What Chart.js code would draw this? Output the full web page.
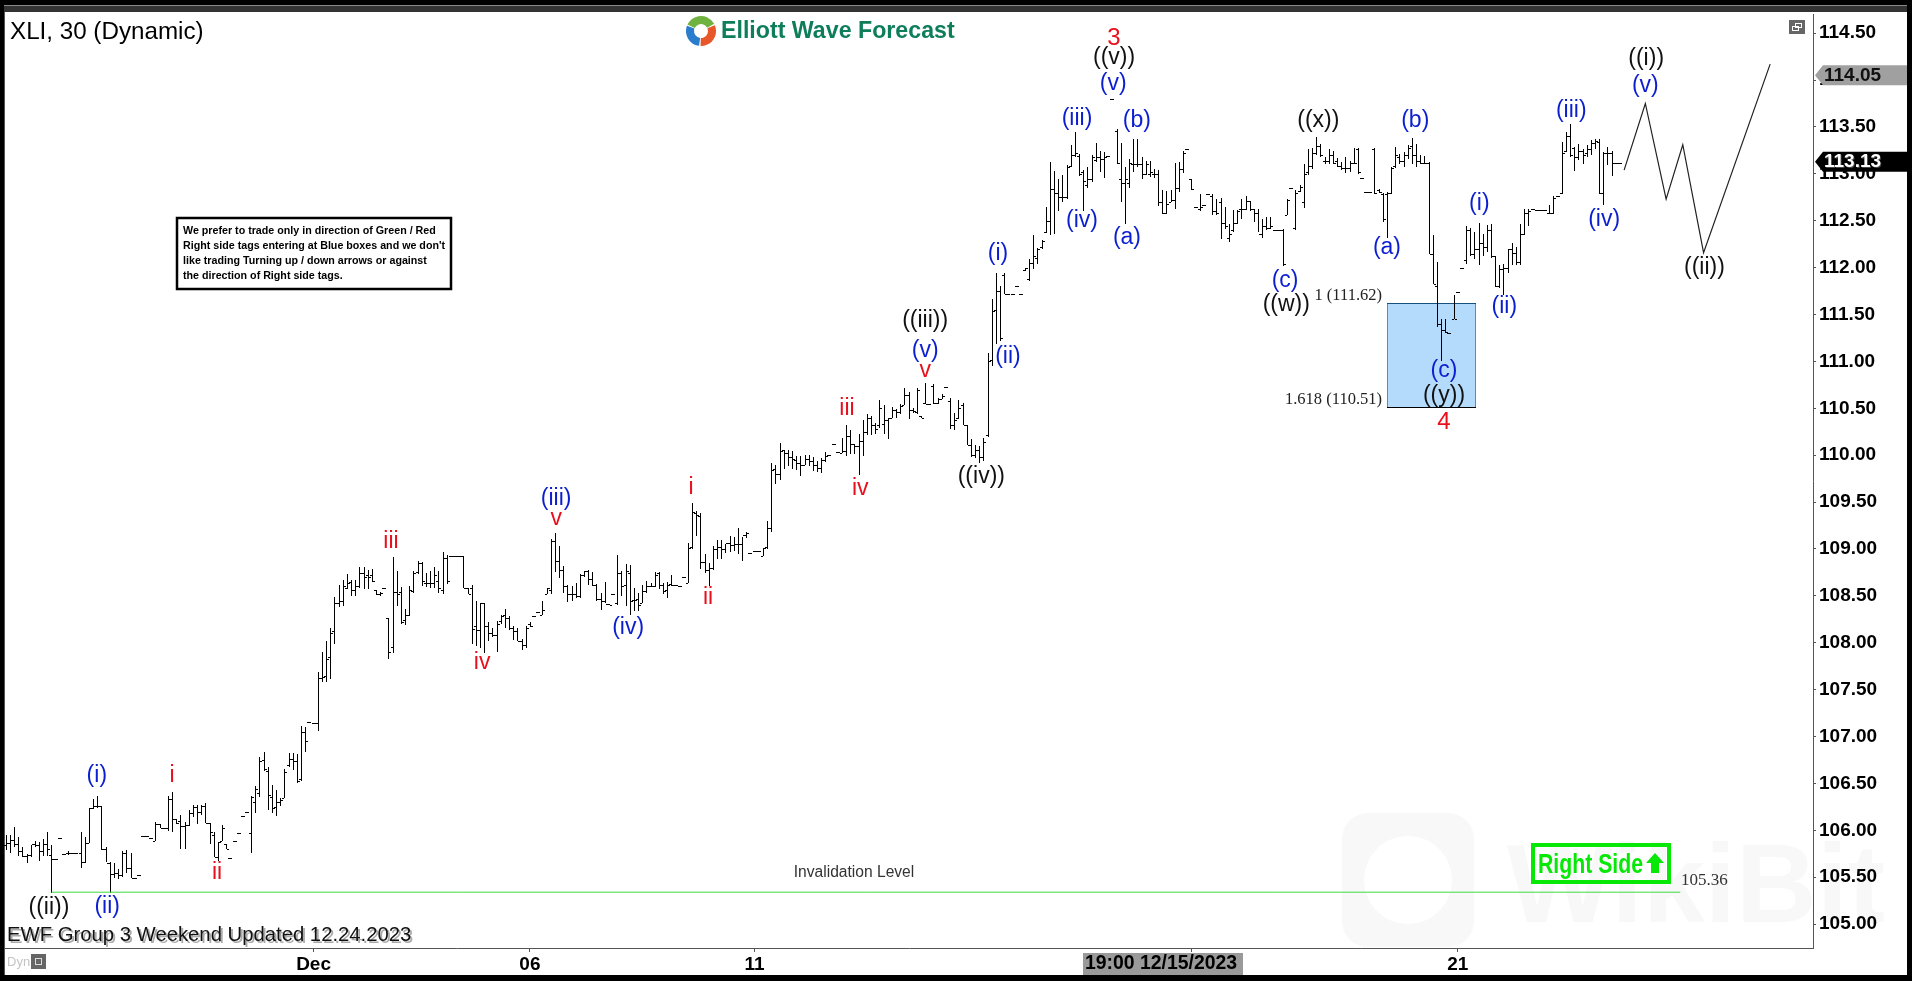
<!DOCTYPE html>
<html lang="en">
<head>
  <meta charset="UTF-8">
  <title>XLI, 30 (Dynamic)</title>
  <script src="https://cdn.jsdelivr.net/npm/chart.js"></script>
  <style>
    html, body { margin: 0; padding: 0; background: #000; overflow: hidden; }
    canvas { display: block; }
  </style>
</head>
<body>
  <canvas id="grafico" width="1912" height="981"></canvas>

  <script>
    const highs = [
      105.95,105.95,106.03,105.93,105.82,105.75,105.84,105.89,105.87,105.91,
      105.98,105.84,105.69,105.92,105.75,105.78,105.76,105.76,105.98,105.93,
      106.24,106.33,106.37,106.26,105.82,105.66,105.65,105.59,105.78,105.79,
      105.76,105.49,105.52,105.94,105.94,105.92,106.09,106.07,106.02,106.37,
      106.41,106.12,106.16,106.09,106.22,106.27,106.27,106.27,106.29,106.08,
      105.98,105.88,106.06,105.85,105.71,105.89,105.97,106.15,106.20,106.37,
      106.47,106.78,106.84,106.68,106.48,106.43,106.34,106.65,106.82,106.82,
      106.81,107.11,107.10,107.15,107.14,107.69,107.90,108.02,108.16,108.49,
      108.62,108.67,108.73,108.67,108.67,108.81,108.81,108.78,108.79,108.56,
      108.54,108.58,108.26,108.91,108.77,108.59,108.36,108.61,108.77,108.87,
      108.86,108.74,108.77,108.81,108.77,108.97,108.94,108.92,108.92,108.92,
      108.92,108.58,108.62,108.45,108.42,108.42,108.22,108.16,108.23,108.30,
      108.36,108.29,108.18,108.16,108.04,108.18,108.22,108.28,108.33,108.45,
      108.58,109.11,109.17,109.03,108.82,108.62,108.61,108.64,108.73,108.77,
      108.78,108.75,108.63,108.53,108.65,108.41,108.52,108.94,108.77,108.84,
      108.83,108.58,108.53,108.62,108.66,108.64,108.75,108.75,108.64,108.65,
      108.72,108.62,108.61,108.70,109.06,109.49,109.41,109.38,108.95,108.85,
      109.03,109.10,109.10,109.05,109.14,109.13,109.22,109.13,109.18,108.96,
      108.98,108.98,109.01,109.30,109.92,109.90,110.13,110.06,110.05,110.04,
      109.99,109.99,110.00,110.00,109.98,109.94,109.97,110.03,110.00,110.12,
      110.03,110.18,110.32,110.27,110.12,110.23,110.37,110.44,110.42,110.34,
      110.59,110.53,110.40,110.51,110.49,110.55,110.72,110.67,110.50,110.72,
      110.42,110.77,110.55,110.76,110.61,110.65,110.73,110.61,110.45,110.59,
      110.56,110.32,110.17,110.11,110.10,110.18,111.09,111.67,111.94,111.80,
      111.94,111.72,111.72,111.80,111.72,112.00,112.09,112.35,112.21,112.29,
      112.65,113.13,113.03,112.95,112.99,113.09,113.31,113.45,113.21,113.04,
      113.07,113.20,113.33,113.24,113.23,113.19,113.80,113.48,113.33,113.07,
      113.16,113.37,113.37,113.18,113.14,113.14,113.05,113.04,112.83,112.82,
      112.83,113.12,113.13,113.24,113.26,112.94,112.65,112.78,112.67,112.78,
      112.78,112.73,112.74,112.65,112.46,112.61,112.61,112.73,112.76,112.71,
      112.62,112.63,112.52,112.54,112.54,112.40,112.40,112.41,112.73,112.85,
      112.83,112.88,113.10,113.26,113.28,113.39,113.32,113.18,113.27,113.24,
      113.17,113.13,113.18,113.14,113.28,113.28,112.96,112.81,112.81,113.28,
      112.84,112.80,112.81,113.07,113.29,113.21,113.23,113.31,113.38,113.32,
      113.20,113.19,113.13,112.35,112.06,111.45,111.45,111.30,111.71,111.74,
      112.00,112.44,112.42,112.38,112.48,112.36,112.45,112.46,112.12,112.03,
      112.04,112.20,112.26,112.22,112.46,112.63,112.63,112.62,112.61,112.61,
      112.61,112.67,112.76,112.76,113.34,113.45,113.53,113.29,113.32,113.27,
      113.31,113.36,113.37,113.37,113.23,113.29,113.24,113.12,113.12
    ];
    const lows = [
      105.79,105.76,105.82,105.73,105.72,105.65,105.72,105.82,105.67,105.73,
      105.73,105.33,105.69,105.92,105.75,105.74,105.76,105.76,105.60,105.65,
      105.86,106.23,106.24,105.79,105.66,105.33,105.49,105.48,105.50,105.55,
      105.49,105.49,105.52,105.94,105.94,105.92,105.89,106.02,106.02,105.99,
      105.98,106.07,105.80,105.80,106.05,106.14,106.07,106.16,106.08,105.85,
      105.72,105.67,105.89,105.80,105.71,105.89,105.97,106.15,106.20,105.76,
      106.18,106.35,106.63,106.22,106.18,106.15,106.26,106.34,106.67,106.64,
      106.50,106.53,106.84,107.15,107.14,107.06,107.58,107.58,107.61,107.99,
      108.38,108.39,108.57,108.50,108.50,108.58,108.57,108.57,108.65,108.51,
      108.50,108.58,107.83,107.89,108.39,108.20,108.19,108.28,108.53,108.73,
      108.60,108.59,108.58,108.58,108.53,108.52,108.63,108.92,108.92,108.92,
      108.58,108.52,107.99,107.96,107.94,107.89,108.02,108.06,107.90,108.20,
      108.16,108.14,108.03,108.02,107.92,107.94,108.17,108.28,108.33,108.30,
      108.52,108.52,108.75,108.69,108.53,108.43,108.45,108.48,108.48,108.70,
      108.62,108.61,108.45,108.35,108.42,108.40,108.52,108.40,108.50,108.39,
      108.30,108.34,108.34,108.42,108.53,108.59,108.59,108.57,108.52,108.48,
      108.61,108.62,108.61,108.70,108.64,109.00,109.14,108.79,108.74,108.61,
      108.78,108.89,108.89,108.96,108.97,108.98,108.95,108.87,109.12,108.96,
      108.98,108.98,108.92,109.00,109.18,109.69,109.73,109.85,109.88,109.85,
      109.84,109.78,109.90,109.88,109.83,109.82,109.81,109.93,110.00,110.12,
      110.03,110.02,109.99,110.01,110.01,109.79,109.99,110.22,110.22,110.23,
      110.29,110.23,110.17,110.40,110.40,110.44,110.54,110.39,110.45,110.44,
      110.40,110.55,110.55,110.55,110.55,110.60,110.73,110.28,110.27,110.39,
      110.32,110.11,109.98,109.97,109.92,109.94,110.19,110.95,111.19,111.22,
      111.72,111.72,111.72,111.80,111.72,111.96,111.86,111.98,112.04,112.20,
      112.37,112.35,112.36,112.60,112.70,112.73,113.07,113.18,112.98,112.60,
      112.85,112.91,113.13,113.02,112.96,113.19,113.80,113.10,112.70,112.47,
      112.85,113.02,113.07,112.94,112.99,112.97,112.96,112.66,112.57,112.57,
      112.70,112.63,112.81,113.01,113.26,112.83,112.65,112.60,112.67,112.78,
      112.56,112.56,112.31,112.41,112.27,112.38,112.46,112.52,112.61,112.60,
      112.49,112.38,112.32,112.40,112.41,112.40,112.40,112.02,112.56,112.85,
      112.40,112.81,112.64,112.99,113.05,113.20,113.18,113.10,113.11,113.10,
      113.07,113.04,113.01,113.02,113.11,113.00,112.96,112.81,112.81,112.79,
      112.80,112.49,112.32,112.79,113.06,113.10,113.07,113.16,113.10,113.07,
      113.11,113.10,112.14,111.82,111.37,111.00,111.30,111.30,111.45,111.74,
      112.00,112.04,112.12,112.09,112.03,112.12,112.17,112.10,111.79,111.78,
      111.71,111.94,112.03,112.03,112.03,112.35,112.44,112.62,112.61,112.61,
      112.61,112.57,112.57,112.76,112.78,113.23,113.18,113.03,113.15,113.10,
      113.18,113.20,113.27,112.78,112.67,113.09,112.98,113.12,113.12
    ];
    const opens = [
      105.84,105.86,105.90,105.85,105.78,105.73,105.74,105.85,105.84,105.78,
      105.85,105.74,105.69,105.92,105.75,105.76,105.76,105.76,105.76,105.66,
      105.86,106.24,106.26,106.26,105.80,105.65,105.53,105.55,105.52,105.76,
      105.60,105.49,105.52,105.94,105.94,105.92,105.89,106.07,106.02,106.02,
      106.33,106.12,106.10,106.05,106.06,106.18,106.25,106.20,106.26,106.08,
      105.95,105.72,105.89,105.85,105.71,105.89,105.97,106.15,106.20,105.97,
      106.30,106.40,106.75,106.63,106.36,106.25,106.30,106.34,106.70,106.76,
      106.74,106.55,107.05,107.15,107.14,107.14,107.62,107.65,107.85,108.12,
      108.42,108.45,108.58,108.65,108.56,108.60,108.74,108.72,108.72,108.56,
      108.52,108.58,108.26,107.95,108.54,108.54,108.24,108.30,108.55,108.75,
      108.85,108.64,108.64,108.64,108.66,108.56,108.90,108.92,108.92,108.92,
      108.92,108.58,108.58,108.18,108.14,108.42,108.18,108.10,108.08,108.23,
      108.30,108.26,108.16,108.12,108.02,107.98,108.20,108.28,108.33,108.30,
      108.52,108.56,109.09,108.87,108.78,108.60,108.52,108.52,108.50,108.72,
      108.76,108.68,108.62,108.47,108.44,108.41,108.52,108.42,108.74,108.62,
      108.74,108.46,108.47,108.42,108.55,108.61,108.60,108.74,108.62,108.56,
      108.63,108.62,108.61,108.70,108.64,109.02,109.38,109.35,108.86,108.78,
      108.80,109.00,109.02,109.00,109.06,109.04,109.05,109.05,109.15,108.96,
      108.98,108.98,108.92,109.02,109.22,109.85,109.80,110.05,110.02,109.98,
      109.95,109.92,109.90,109.96,109.94,109.90,109.86,109.95,110.00,110.12,
      110.03,110.02,110.04,110.20,110.12,110.10,110.15,110.25,110.40,110.32,
      110.32,110.33,110.38,110.40,110.48,110.46,110.54,110.64,110.48,110.46,
      110.42,110.56,110.55,110.74,110.56,110.60,110.73,110.58,110.32,110.40,
      110.53,110.32,110.11,110.00,110.05,109.98,110.22,111.02,111.55,111.75,
      111.92,111.72,111.72,111.80,111.72,111.97,111.88,112.05,112.10,112.22,
      112.38,112.50,112.84,112.80,112.75,112.75,113.08,113.20,113.19,113.02,
      112.88,112.95,113.15,113.18,113.16,113.19,113.80,113.46,112.95,112.90,
      112.90,113.10,113.10,113.10,113.00,113.00,113.00,113.00,112.70,112.58,
      112.70,112.72,112.85,113.05,113.26,112.94,112.65,112.62,112.67,112.78,
      112.76,112.60,112.70,112.48,112.32,112.40,112.48,112.62,112.62,112.71,
      112.62,112.58,112.36,112.44,112.42,112.40,112.40,112.40,112.56,112.85,
      112.42,112.82,112.70,113.02,113.08,113.22,113.30,113.14,113.14,113.20,
      113.14,113.08,113.06,113.06,113.12,113.26,112.96,112.81,112.81,113.26,
      112.83,112.78,112.78,112.80,113.08,113.18,113.14,113.20,113.30,113.20,
      113.14,113.12,113.12,112.14,111.80,111.40,111.34,111.30,111.45,111.74,
      112.00,112.08,112.40,112.15,112.20,112.26,112.22,112.40,112.12,111.80,
      111.98,112.00,112.20,112.16,112.06,112.36,112.58,112.62,112.61,112.61,
      112.61,112.58,112.58,112.76,112.80,113.24,113.40,113.28,113.18,113.24,
      113.22,113.26,113.33,113.34,112.80,113.22,113.22,113.12,113.12
    ];
    const closes = [
      105.86,105.90,105.85,105.78,105.73,105.74,105.85,105.84,105.78,105.85,
      105.80,105.69,105.69,105.92,105.75,105.76,105.76,105.76,105.66,105.86,
      106.24,106.26,106.26,105.80,105.65,105.53,105.55,105.52,105.76,105.60,
      105.49,105.49,105.52,105.94,105.94,105.92,106.07,106.02,106.02,106.33,
      106.12,106.08,106.05,106.06,106.18,106.25,106.20,106.26,106.08,105.98,
      105.72,105.88,106.02,105.80,105.71,105.89,105.97,106.15,106.20,106.35,
      106.44,106.74,106.65,106.38,106.24,106.30,106.32,106.62,106.76,106.74,
      106.53,107.05,106.95,107.15,107.14,107.62,107.63,107.83,108.10,108.42,
      108.44,108.60,108.64,108.56,108.60,108.74,108.70,108.70,108.66,108.52,
      108.53,108.58,107.90,108.54,108.52,108.22,108.30,108.56,108.74,108.85,
      108.66,108.64,108.64,108.72,108.58,108.90,108.66,108.92,108.92,108.92,
      108.58,108.52,108.15,108.14,108.42,108.18,108.10,108.08,108.20,108.28,
      108.26,108.16,108.12,108.02,107.98,108.16,108.18,108.28,108.33,108.35,
      108.58,109.08,108.87,108.78,108.60,108.52,108.52,108.50,108.72,108.76,
      108.68,108.62,108.47,108.44,108.41,108.40,108.52,108.74,108.60,108.76,
      108.45,108.46,108.40,108.55,108.61,108.60,108.72,108.62,108.55,108.62,
      108.62,108.62,108.61,108.70,109.01,109.39,109.36,108.86,108.78,108.80,
      109.00,109.02,109.00,109.06,109.04,109.05,109.05,109.15,109.17,108.96,
      108.98,108.98,109.01,109.22,109.84,109.80,110.04,110.02,109.98,109.96,
      109.92,109.90,109.96,109.94,109.90,109.86,109.95,109.99,110.00,110.12,
      110.03,110.04,110.20,110.12,110.10,110.15,110.25,110.40,110.32,110.28,
      110.50,110.38,110.40,110.48,110.46,110.52,110.64,110.48,110.47,110.70,
      110.40,110.55,110.55,110.56,110.60,110.63,110.73,110.32,110.38,110.50,
      110.32,110.11,110.00,110.05,109.98,110.14,111.00,111.54,111.75,111.25,
      111.72,111.72,111.72,111.80,111.72,112.00,112.05,112.12,112.20,112.28,
      112.50,112.84,112.80,112.75,112.75,113.07,113.20,113.22,113.00,112.92,
      112.95,113.18,113.18,113.16,113.18,113.19,113.80,113.12,112.90,112.95,
      113.12,113.10,113.10,113.00,113.10,113.02,113.00,112.70,112.58,112.68,
      112.72,112.85,113.05,113.22,113.26,112.84,112.65,112.65,112.67,112.78,
      112.60,112.58,112.48,112.44,112.36,112.48,112.60,112.62,112.71,112.62,
      112.58,112.36,112.44,112.42,112.44,112.40,112.40,112.04,112.72,112.85,
      112.80,112.86,113.00,113.08,113.22,113.30,113.20,113.14,113.20,113.12,
      113.08,113.06,113.06,113.12,113.12,113.02,112.96,112.81,112.81,112.80,
      112.81,112.52,112.80,113.06,113.20,113.14,113.20,113.28,113.20,113.14,
      113.12,113.12,112.14,111.82,111.40,111.34,111.31,111.30,111.45,111.74,
      112.00,112.40,112.15,112.20,112.26,112.22,112.40,112.12,111.80,111.98,
      112.00,112.20,112.16,112.06,112.36,112.58,112.60,112.62,112.61,112.61,
      112.61,112.58,112.74,112.76,113.22,113.40,113.20,113.18,113.24,113.20,
      113.26,113.33,113.35,112.80,113.22,113.22,113.12,113.12,113.12
    ];

    // the tick at 285 sits above the crosshair time box, its label is hidden
    const xTicks = [74, 126, 180, 285, 349];
    const xTickLabels = ['Dec', '06', '11', '', '21'];

    // planned path after the last bar
    const pathX = [389, 394.1, 399.1, 403.1, 408.1, 424.1];
    const pathY = [113.04, 113.75, 112.73, 113.31, 112.16, 114.17];

    const invalidX = [11, 402.5];
    const invalidY = [105.34, 105.34];

    const boxX = [332, 353.2];
    const boxY = [111.62, 110.51];

    const BLUE = '#0b1fd0', RED = '#e8101c', BLACK = '#111';
    const waveText = ['((ii))','(ii)','(i)','i','ii','iii','iv','(iii)','v','(iv)','i','ii','iii','iv','((iii))','(v)','v','((iv))','(ii)','(i)','3','((v))','(v)','(iii)','(b)','(iv)','(a)','((x))','(b)','(a)','(c)','((w))','(c)','((y))','4','(i)','(ii)','(iii)','(iv)','((i))','(v)','((ii))'];
    const waveX = [10.4,24.4,21.9,40,50.8,92.6,114.5,132.3,132.3,149.6,164.7,168.8,202.2,205.4,221,221,221,234.5,240.9,238.5,266.4,266.4,266.2,257.5,271.9,258.7,269.5,315.5,338.8,332,307.5,307.8,345.7,345.7,345.7,354.2,360.2,376.3,384.2,394.3,394.1,408.3];
    const waveY = [105.16,105.17,106.57,106.57,105.53,109.06,107.77,109.52,109.31,108.15,109.64,108.46,110.48,109.63,111.42,111.10,110.88,109.76,111.03,112.13,114.44,114.22,113.95,113.57,113.55,112.48,112.30,113.55,113.55,112.20,111.85,111.59,110.88,110.62,110.35,112.67,111.57,113.66,112.50,114.21,113.92,111.98];
    const waveColor = [BLACK,BLUE,BLUE,RED,RED,RED,RED,BLUE,RED,BLUE,RED,RED,RED,RED,BLACK,BLUE,RED,BLACK,BLUE,BLUE,RED,BLACK,BLUE,BLUE,BLUE,BLUE,BLUE,BLACK,BLUE,BLUE,BLUE,BLACK,BLUE,BLACK,RED,BLUE,BLUE,BLUE,BLUE,BLACK,BLUE,BLACK];

    const noteLines = [
      'We prefer to trade only in direction of Green / Red',
      "Right side tags entering at Blue boxes and we don't",
      'like trading Turning up / down arrows or against',
      'the direction of Right side tags.'
    ];

    const SANS = '"Liberation Sans", Arial, sans-serif';
    const SERIF = '"Liberation Serif", serif';

    function scritta(ctx, testo, x, y, font, colore, allinea) {
      ctx.font = font;
      ctx.fillStyle = colore;
      ctx.textAlign = allinea || 'center';
      ctx.textBaseline = 'middle';
      ctx.fillText(testo, x, y);
    }

    function tag(ctx, y, sfondo, testo, colore, ombra) {
      ctx.fillStyle = sfondo;
      ctx.beginPath();
      ctx.moveTo(1815, y);
      ctx.lineTo(1823, y - 10);
      ctx.lineTo(1907, y - 10);
      ctx.lineTo(1907, y + 10);
      ctx.lineTo(1823, y + 10);
      ctx.closePath();
      ctx.fill();
      if (ombra) scritta(ctx, testo, 1825, y + 1, 'bold 19px ' + SANS, ombra, 'left');
      scritta(ctx, testo, 1824, y, 'bold 19px ' + SANS, colore, 'left');
    }

    const cornice = {
      id: 'cornice',
      beforeDraw(chart) {
        const ctx = chart.ctx;
        ctx.save();
        ctx.fillStyle = '#000';
        ctx.fillRect(0, 0, 1912, 981);
        ctx.fillStyle = '#8a8a8a';
        ctx.fillRect(4, 5, 1903, 1);
        ctx.fillStyle = '#333';
        ctx.fillRect(4, 6, 1903, 6);
        ctx.fillStyle = '#555';
        ctx.fillRect(4, 12, 1, 963);
        ctx.fillStyle = '#fff';
        ctx.fillRect(5, 12, 1902, 963);

        // faint watermark behind the chart
        ctx.fillStyle = '#f8f8f8';
        ctx.beginPath();
        ctx.roundRect(1342, 813, 132, 134, 26);
        ctx.fill();
        ctx.fillStyle = '#fff';
        ctx.beginPath();
        ctx.arc(1408, 880, 44, 0, Math.PI * 2);
        ctx.fill();
        ctx.fillStyle = '#f8f8f8';
        ctx.font = 'bold 112px ' + SANS;
        ctx.textAlign = 'left';
        ctx.textBaseline = 'alphabetic';
        ctx.fillText('WikiBit', 1507, 922, 378);
        ctx.restore();
      },
      beforeDatasetsDraw(chart) {
        const ctx = chart.ctx, sx = chart.scales.x, sy = chart.scales.y;
        const x0 = Math.round(sx.getPixelForValue(boxX[0])), x1 = Math.round(sx.getPixelForValue(boxX[1]));
        const y0 = Math.round(sy.getPixelForValue(boxY[0])), y1 = Math.round(sy.getPixelForValue(boxY[1]));
        ctx.save();
        ctx.fillStyle = '#b4dbfb';
        ctx.fillRect(x0, y0, x1 - x0, y1 - y0);
        ctx.fillStyle = '#2b9bd8';
        ctx.fillRect(x0, y0, 1, y1 - y0);
        ctx.fillRect(x1, y0, 1, y1 - y0);
        ctx.fillStyle = '#16507c';
        ctx.fillRect(x0, y0, x1 - x0 + 1, 1);
        ctx.fillStyle = '#000';
        ctx.fillRect(x0, y1, x1 - x0 + 1, 1);
        ctx.restore();
      },
      afterDatasetsUpdate(chart) {
        // snap the high-low stems to whole pixels
        chart.getDatasetMeta(0).data.forEach(el => {
          el.x = Math.round(el.x) + 0.5;
          el.y = Math.round(el.y);
          el.base = Math.round(el.base);
        });
      },
      afterDatasetsDraw(chart) {
        const ctx = chart.ctx, sx = chart.scales.x, sy = chart.scales.y;
        const stems = chart.getDatasetMeta(0).data;
        ctx.save();
        ctx.fillStyle = '#000';
        chart.getDatasetMeta(1).data.forEach((p, i) => {
          ctx.fillRect(Math.floor(stems[i].x) - 2, Math.round(p.y), 2, 1);
        });
        chart.getDatasetMeta(2).data.forEach((p, i) => {
          // a bar with no range shows as one short dash
          const flat = highs[i] === lows[i];
          ctx.fillRect(Math.floor(stems[i].x) + (flat ? 0 : 1), Math.round(p.y), flat ? 2 : 2, 1);
        });

        waveText.forEach((t, i) => {
          const big = t === '3' || t === '4';
          scritta(ctx, t, sx.getPixelForValue(waveX[i]), sy.getPixelForValue(waveY[i]) - (big ? 0 : 1.5),
            (big ? '24px ' : '23px ') + SANS, waveColor[i]);
        });

        scritta(ctx, '1 (111.62)', 1382, sy.getPixelForValue(boxY[0]) - 8, '16.5px ' + SERIF, '#222', 'right');
        scritta(ctx, '1.618 (110.51)', 1382, sy.getPixelForValue(boxY[1]) - 8, '16.5px ' + SERIF, '#222', 'right');
        scritta(ctx, 'Invalidation Level', 854, 873, '15.6px ' + SANS, '#333');
        scritta(ctx, '105.36', 1681, 881, '17px ' + SERIF, '#333', 'left');

        // right side tag
        ctx.strokeStyle = '#07e807';
        ctx.lineWidth = 4;
        ctx.strokeRect(1533, 845, 136, 37);
        ctx.fillStyle = '#07e807';
        ctx.font = 'bold 28px ' + SANS;
        ctx.textAlign = 'left';
        ctx.textBaseline = 'middle';
        ctx.fillText('Right Side', 1538, 865, 105);
        ctx.beginPath();
        ctx.moveTo(1655, 853);
        ctx.lineTo(1664, 863);
        ctx.lineTo(1659, 863);
        ctx.lineTo(1659, 873);
        ctx.lineTo(1651, 873);
        ctx.lineTo(1651, 863);
        ctx.lineTo(1646, 863);
        ctx.closePath();
        ctx.fill();

        // note box
        ctx.fillStyle = '#fff';
        ctx.fillRect(177, 218, 274, 71);
        ctx.strokeStyle = '#000';
        ctx.lineWidth = 2.5;
        ctx.strokeRect(177, 218, 274, 71);
        const noteY = [231, 246, 261, 276];
        noteLines.forEach((l, i) => {
          scritta(ctx, l, 183, noteY[i], 'bold 10.7px ' + SANS, '#000', 'left');
        });

        // titles
        scritta(ctx, 'XLI, 30 (Dynamic)', 10, 32, '24.2px ' + SANS, '#000', 'left');
        const titolo = 'EWF Group 3 Weekend Updated 12.24.2023';
        scritta(ctx, titolo, 9, 937, '20.3px ' + SANS, '#aaa', 'left');
        scritta(ctx, titolo, 7, 935, '20.3px ' + SANS, '#111', 'left');

        // logo
        ctx.lineWidth = 8;
        ctx.lineCap = 'butt';
        [['#6fb23f', -2.7, -0.5], ['#e8572a', -0.4, 1.6], ['#2a7ccc', 1.7, 3.5]].forEach(a => {
          ctx.strokeStyle = a[0];
          ctx.beginPath();
          ctx.arc(701, 31, 11, a[1], a[2]);
          ctx.stroke();
        });
        scritta(ctx, 'Elliott Wave Forecast', 721, 32, 'bold 23.2px ' + SANS, '#0d7d5a', 'left');

        // small window icon top right, Dyn lock bottom left
        ctx.fillStyle = '#666';
        ctx.fillRect(1789, 20, 16, 14);
        ctx.strokeStyle = '#fff';
        ctx.lineWidth = 1;
        ctx.strokeRect(1795.5, 23.5, 6, 4);
        ctx.strokeRect(1792.5, 26.5, 6, 4);
        scritta(ctx, 'Dyn', 7, 962, '13px ' + SANS, '#c4c4c4', 'left');
        ctx.fillStyle = '#666';
        ctx.fillRect(31, 954, 15, 15);
        ctx.strokeStyle = '#ddd';
        ctx.strokeRect(35.5, 958.5, 6, 6);
        ctx.restore();
      },
      afterDraw(chart) {
        const ctx = chart.ctx, sy = chart.scales.y;
        ctx.save();
        tag(ctx, sy.getPixelForValue(114.05), '#a0a0a0', '114.05', '#111', null);
        tag(ctx, sy.getPixelForValue(113.13), '#000', '113.13', '#fff', '#444');

        // crosshair time on the bottom axis
        ctx.fillStyle = '#9a9a9a';
        ctx.fillRect(1083, 953, 160, 22);
        scritta(ctx, '19:00 12/15/2023', 1085, 964, 'bold 19.4px ' + SANS, '#000', 'left');
        ctx.restore();
      }
    };

    new Chart(document.getElementById('grafico'), {
      type: 'bar',
      data: {
        datasets: [
          {
            type: 'bar',
            label: 'XLI',
            data: highs.map((h, i) => ({ x: i, y: [lows[i], h] })),
            backgroundColor: '#000',
            barThickness: 1,
            inflateAmount: 0,
            order: 3
          },
          {
            type: 'line',
            label: 'Open',
            data: opens.map((v, i) => ({ x: i, y: v })),
            showLine: false,
            pointRadius: 0,
            order: 2
          },
          {
            type: 'line',
            label: 'Close',
            data: closes.map((v, i) => ({ x: i, y: v })),
            showLine: false,
            pointRadius: 0,
            order: 2
          },
          {
            type: 'line',
            label: 'Path',
            data: pathX.map((x, i) => ({ x: x, y: pathY[i] })),
            borderColor: '#222',
            borderWidth: 1.2,
            pointRadius: 0,
            tension: 0,
            order: 1
          },
          {
            type: 'line',
            label: 'Invalidation Level',
            data: invalidX.map((x, i) => ({ x: x, y: invalidY[i] })),
            borderColor: '#3fdc3f',
            borderWidth: 1,
            pointRadius: 0,
            order: 1
          }
        ]
      },
      options: {
        responsive: false,
        animation: false,
        events: [],
        layout: { padding: { left: 5, top: 12, right: 5, bottom: 6 } },
        plugins: { legend: { display: false }, tooltip: { enabled: false } },
        scales: {
          x: {
            type: 'linear',
            min: -0.17,
            max: 434.4,
            offset: false,
            afterBuildTicks: s => { s.ticks = xTicks.map(v => ({ value: v })); },
            afterFit: s => { s.height = 27; },
            border: { color: '#555', width: 1 },
            grid: { offset: false, drawOnChartArea: false, tickLength: 4, tickColor: '#555' },
            ticks: {
              autoSkip: false,
              maxRotation: 0,
              padding: 1,
              color: '#000',
              font: { family: SANS, size: 19, weight: 'bold' },
              callback: v => xTickLabels[xTicks.indexOf(v)]
            }
          },
          y: {
            position: 'right',
            min: 104.745,
            max: 114.70,
            afterFit: s => { s.width = 94; },
            border: { color: '#555', width: 1 },
            grid: { drawOnChartArea: false, tickLength: 3, tickColor: '#555' },
            ticks: {
              stepSize: 0.5,
              includeBounds: false,
              padding: 3,
              color: '#000',
              font: { family: SANS, size: 19, weight: 'bold' },
              callback: v => v.toFixed(2)
            }
          }
        }
      },
      plugins: [cornice]
    });
  </script>
</body>
</html>
